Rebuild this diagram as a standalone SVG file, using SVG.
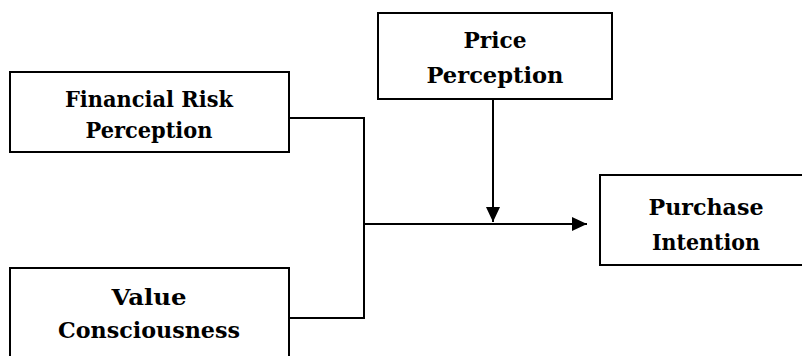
<svg xmlns="http://www.w3.org/2000/svg" width="802" height="356" viewBox="0 0 802 356">
<defs>
<style>
.box{fill:#fff;stroke:#000;stroke-width:2}
.t{font-family:'DejaVu Serif',serif;font-weight:700;font-size:23px;fill:#000;text-anchor:middle}
.c{fill:none;stroke:#000;stroke-width:2}
</style>
<marker id="ah" markerUnits="userSpaceOnUse" markerWidth="16" markerHeight="14" refX="15" refY="7" orient="auto">
<path d="M0,0 L15,7 L0,14 Z" fill="#000"/>
</marker>
</defs>
<rect width="802" height="356" fill="#fff"/>
<g id="financial-risk">
<rect class="box" x="10" y="72" width="279" height="80"/>
<text class="t" x="149" y="107" textLength="168" lengthAdjust="spacingAndGlyphs">Financial Risk</text>
<text class="t" x="149" y="138" textLength="127" lengthAdjust="spacingAndGlyphs">Perception</text>
</g>
<g id="value-consciousness">
<rect class="box" x="10" y="268" width="279" height="100"/>
<text class="t" x="149" y="305" textLength="75" lengthAdjust="spacingAndGlyphs">Value</text>
<text class="t" x="149" y="338" textLength="182" lengthAdjust="spacingAndGlyphs">Consciousness</text>
</g>
<g id="price-perception">
<rect class="box" x="378" y="13" width="234" height="86"/>
<text class="t" x="495" y="48" textLength="63" lengthAdjust="spacingAndGlyphs">Price</text>
<text class="t" x="495" y="83" textLength="137" lengthAdjust="spacingAndGlyphs">Perception</text>
</g>
<g id="purchase-intention">
<rect class="box" x="600" y="175" width="212" height="90"/>
<text class="t" x="706" y="215" textLength="115" lengthAdjust="spacingAndGlyphs">Purchase</text>
<text class="t" x="706" y="250" textLength="108" lengthAdjust="spacingAndGlyphs">Intention</text>
</g>
<g id="connectors">
<polyline class="c" points="289,118 364,118 364,318 289,318"/>
<line class="c" x1="364" y1="224" x2="587" y2="224" marker-end="url(#ah)"/>
<line class="c" x1="493" y1="99" x2="493" y2="222" marker-end="url(#ah)"/>
</g>
</svg>
